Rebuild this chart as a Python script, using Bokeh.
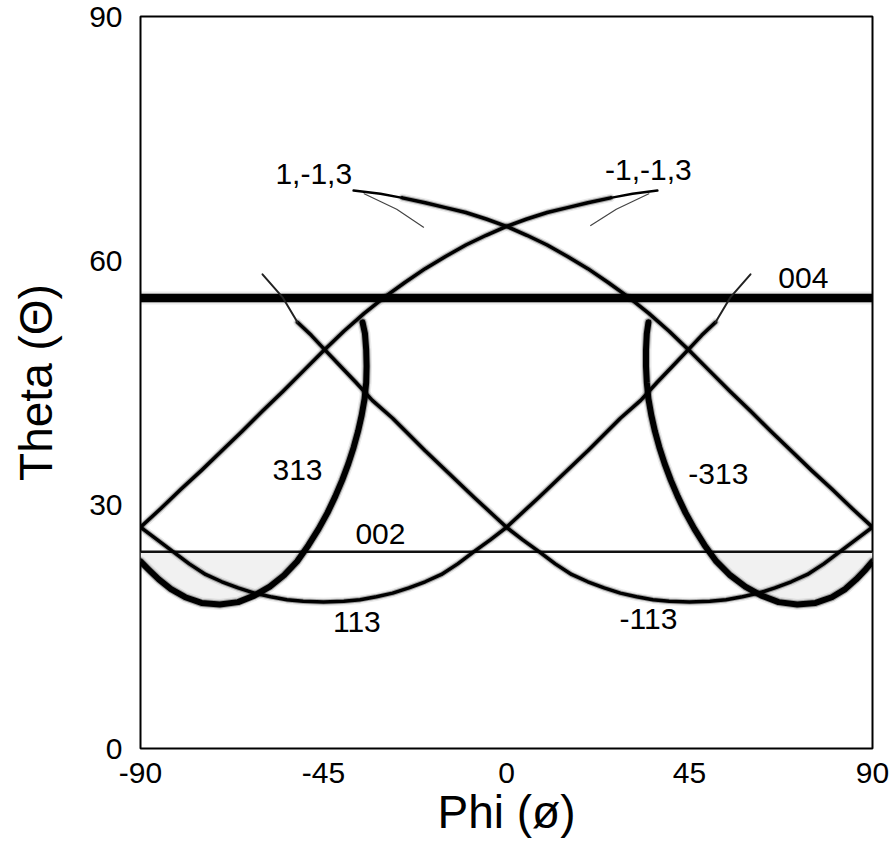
from bokeh.plotting import figure
from bokeh.models import FixedTicker, Range1d, ColumnDataSource
from bokeh.embed import file_html
from bokeh.resources import INLINE
from bokeh.core.properties import value

FONT = "Liberation Sans"

# ---------------- data ----------------
x_ticks = [-90, -45, 0, 45, 90]
x_tick_text = ["-90", "-45", "0", "45", "90"]
y_ticks = [0, 30, 60, 90]

theta_004 = 55.4
theta_002 = 24.2
phi_span = [-90, 90]

# 113 trace
phi_113 = [-90, -86, -82, -78, -74, -70, -66, -62, -58, -54, -50, -45, -40, -36, -32, -28, -24, -20, -16, -12, -8, -4, 0,
           4, 8, 12, 16, 20, 24, 28, 33, 37, 41, 45, 48, 51.4]
theta_113 = [27.2, 25.7, 24.2, 22.7, 21.4, 20.5, 19.75, 19.1, 18.65, 18.3, 18.1, 18.0, 18.1, 18.3, 18.65, 19.1, 19.75, 20.5, 21.4, 22.7, 24.2, 25.65, 27.2,
             29.05, 30.9, 32.8, 34.7, 36.6, 38.6, 40.6, 42.8, 45.0, 47.1, 49.2, 50.8, 52.4]
phi_113_tip = [51.4, 55.1, 60.0]
theta_113_tip = [52.4, 55.5, 58.3]

# -113 trace
phi_m113 = [90, 86, 82, 78, 74, 70, 66, 62, 58, 54, 50, 45, 40, 36, 32, 28, 24, 20, 16, 12, 8, 4, 0,
            -4, -8, -12, -16, -20, -24, -28, -33, -37, -41, -45, -48, -51.4]
theta_m113 = [27.2, 25.7, 24.2, 22.7, 21.4, 20.5, 19.75, 19.1, 18.65, 18.3, 18.1, 18.0, 18.1, 18.3, 18.65, 19.1, 19.75, 20.5, 21.4, 22.7, 24.2, 25.65, 27.2,
              29.05, 30.9, 32.8, 34.7, 36.6, 38.6, 40.6, 42.8, 45.0, 47.1, 49.2, 50.8, 52.4]
phi_m113_tip = [-51.4, -55.1, -60.0]
theta_m113_tip = [52.4, 55.5, 58.3]

# -1,-1,3 trace
phi_m1m13 = [-90, -85, -80, -75, -70, -65, -60, -55, -50, -45, -40, -35, -30, -25, -20, -15, -10, -5, 0, 5, 10, 15, 20, 25.6]
theta_m1m13 = [27.2, 29.5, 31.9, 34.2, 36.6, 39.0, 41.5, 43.9, 46.4, 48.9, 51.3, 53.5, 55.5, 57.3, 59.0, 60.5, 61.9, 63.1, 64.2, 65.1, 65.9, 66.5, 67.1, 67.7]
phi_m1m13_tip = [25.6, 31.0, 37.1]
theta_m1m13_tip = [67.7, 68.2, 68.6]
phi_m1m13_branch = [35.0, 27.0, 20.7]
theta_m1m13_branch = [68.2, 66.3, 64.3]

# 1,-1,3 trace
phi_1m13 = [90, 85, 80, 75, 70, 65, 60, 55, 50, 45, 40, 35, 30, 25, 20, 15, 10, 5, 0, -5, -10, -15, -20, -25.6]
theta_1m13 = [27.2, 29.5, 31.9, 34.2, 36.6, 39.0, 41.5, 43.9, 46.4, 48.9, 51.3, 53.5, 55.5, 57.3, 59.0, 60.5, 61.9, 63.1, 64.2, 65.1, 65.9, 66.5, 67.1, 67.7]
phi_1m13_tip = [-25.6, -31.0, -37.6]
theta_1m13_tip = [67.7, 68.2, 68.6]
phi_1m13_branch = [-35.0, -27.0, -20.4]
theta_1m13_branch = [68.2, 66.3, 64.1]

# 313 trace
phi_313 = [-35.4, -34.8, -34.5, -34.4, -34.5, -34.9, -35.6, -36.5, -37.6, -38.9, -40.4, -42.1, -44.0, -46.2, -48.7,
           -51.5, -54.7, -58.2, -62.0, -66.0, -70.5, -75.0, -79.0, -82.5, -85.5, -88.0, -90.0]
theta_313 = [52.4, 51.0, 49.0, 47.0, 45.0, 43.0, 41.0, 39.0, 37.0, 35.0, 33.0, 31.0, 29.0, 27.0, 25.0,
             23.0, 21.3, 19.9, 18.8, 18.0, 17.7, 17.9, 18.6, 19.6, 20.8, 22.0, 23.0]

# -313 trace
phi_m313 = [34.9, 34.5, 34.3, 34.3, 34.5, 34.9, 35.6, 36.5, 37.6, 38.9, 40.4, 42.1, 44.0, 46.2, 48.7,
            51.6, 55.0, 58.7, 62.7, 66.9, 71.5, 76.0, 80.0, 83.3, 86.0, 88.3, 90.0]
theta_m313 = [52.4, 51.0, 49.0, 47.0, 45.0, 43.0, 41.0, 39.0, 37.0, 35.0, 33.0, 31.0, 29.0, 27.0, 25.0,
              23.0, 21.3, 19.9, 18.8, 18.0, 17.7, 17.9, 18.6, 19.6, 20.8, 22.0, 23.0]

labels = ["1,-1,3", "-1,-1,3", "004", "313", "-313", "002", "113", "-113"]
label_phi = [-47.4, 34.9, 73.0, -51.4, 52.1, -31.0, -36.8, 34.9]
label_theta = [70.6, 71.1, 57.85, 34.3, 33.8, 26.4, 15.6, 15.9]

# ---------------- figure ----------------
p = figure(width=896, height=842, output_backend="svg", toolbar_location=None,
           x_range=Range1d(-90, 90), y_range=Range1d(0, 90),
           min_border_left=140, min_border_right=24, min_border_top=16, min_border_bottom=94)
p.background_fill_color = "white"
p.border_fill_color = "white"
p.outline_line_color = "black"
p.outline_line_width = 2
p.grid.visible = False

for ax in (p.xaxis[0], p.yaxis[0]):
    ax.axis_line_color = None
    ax.major_tick_line_color = None
    ax.minor_tick_line_color = None
    ax.major_label_text_font = FONT
    ax.major_label_text_font_size = "30px"
    ax.major_label_text_color = "black"
    ax.axis_label_text_font = FONT
    ax.axis_label_text_font_size = "46px"
    ax.axis_label_text_font_style = "normal"
    ax.axis_label_text_color = "black"

p.xaxis.ticker = FixedTicker(ticks=x_ticks)
p.xaxis.major_label_overrides = {t: s for t, s in zip(x_ticks, x_tick_text)}
p.yaxis.ticker = FixedTicker(ticks=y_ticks)
p.xaxis.axis_label = "Phi (ø)"
p.yaxis.axis_label = "Theta (Θ)"
p.xaxis.major_label_standoff = 8
p.xaxis.axis_label_standoff = 0
p.yaxis.major_label_standoff = 12
p.yaxis.axis_label_standoff = 24

# shaded pockets between the 002 line and the 313 / -313 loops
for ph, th in ((phi_313, theta_313), (phi_m313, theta_m313)):
    sx = [a for a, b in zip(ph, th) if b <= theta_002]
    sy = [b for b in th if b <= theta_002]
    sx = [sx[0]] + sx + [sx[-1]]
    sy = [theta_002] + sy + [theta_002]
    p.patch(sx, sy, fill_color="#f1f1f1", line_color=None)


def trace(xs, ys, core, soft=True, color="black"):
    if soft:
        p.line(xs, ys, line_width=core + 5, line_color=color, line_alpha=0.08,
               line_join="round", line_cap="round")
        p.line(xs, ys, line_width=core + 2, line_color=color, line_alpha=0.3,
               line_join="round", line_cap="round")
    p.line(xs, ys, line_width=core, line_color=color, line_join="round", line_cap="round")


# horizontal lines
trace(phi_span, [theta_004, theta_004], 8)
trace(phi_span, [theta_002, theta_002], 2.5, soft=False, color="#111111")

# 113 family
trace(phi_113, theta_113, 3.5)
trace(phi_m113, theta_m113, 3.5)
trace(phi_113_tip, theta_113_tip, 2, soft=False, color="#222222")
trace(phi_m113_tip, theta_m113_tip, 2, soft=False, color="#222222")

# 1,-1,3 family
trace(phi_m1m13, theta_m1m13, 3.5)
trace(phi_1m13, theta_1m13, 3.5)
trace(phi_m1m13_tip, theta_m1m13_tip, 2.5, soft=False)
trace(phi_1m13_tip, theta_1m13_tip, 2.5, soft=False)
trace(phi_m1m13_branch, theta_m1m13_branch, 1.2, soft=False, color="#444444")
trace(phi_1m13_branch, theta_1m13_branch, 1.2, soft=False, color="#444444")

# 313 family
trace(phi_313, theta_313, 6)
trace(phi_m313, theta_m313, 6)

src = ColumnDataSource(dict(x=label_phi, y=label_theta, t=labels))
p.text(x="x", y="y", text="t", source=src, text_font=value(FONT), text_font_size="30px",
       text_align="center", text_baseline="middle", text_color="black")

open("out.html", "w").write(file_html(p, INLINE))
